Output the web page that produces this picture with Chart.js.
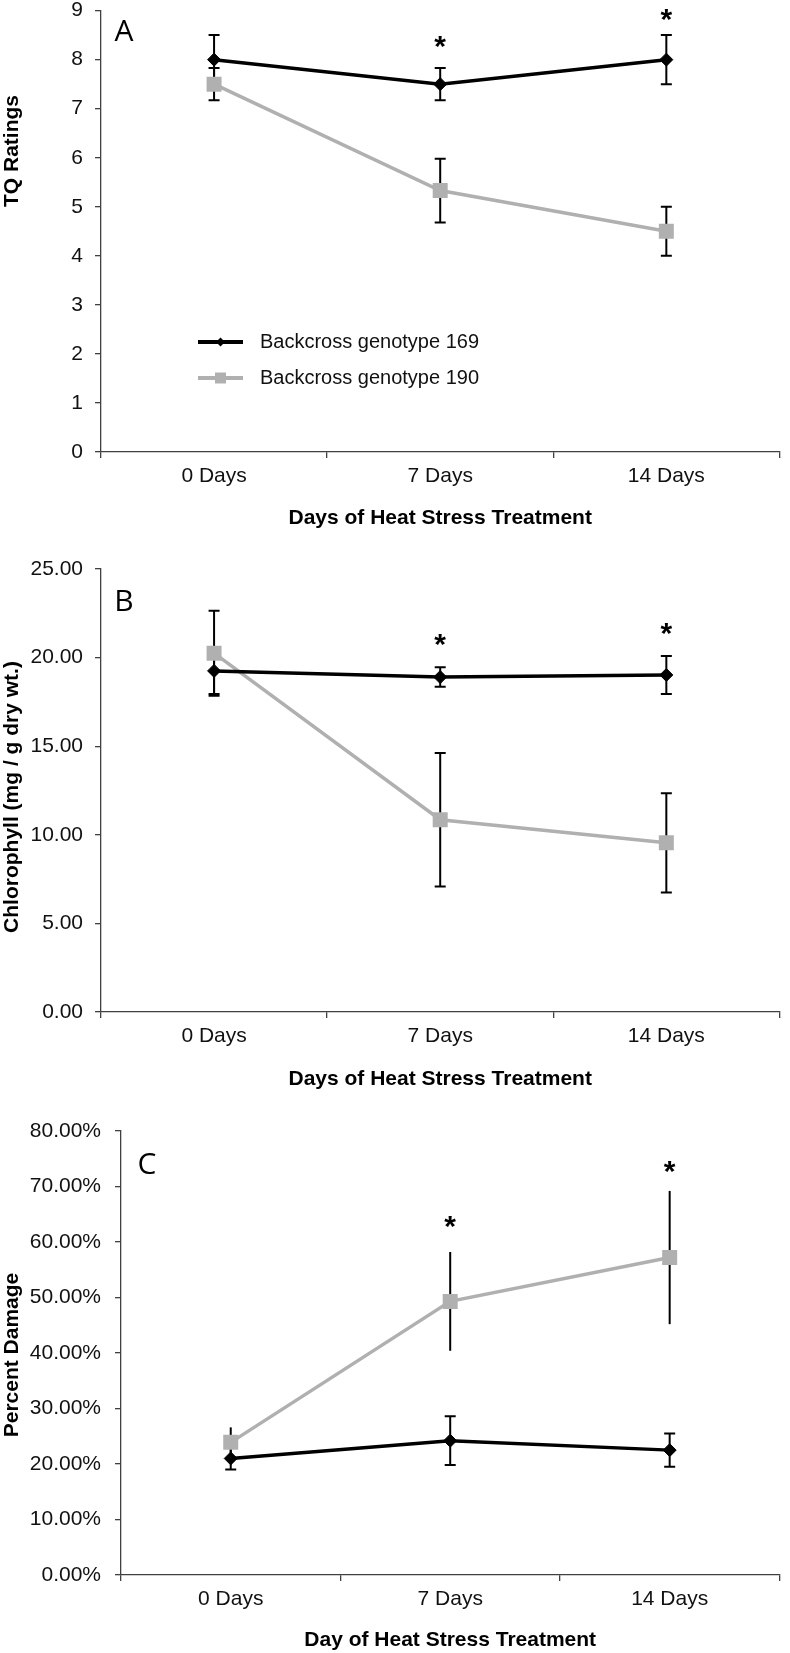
<!DOCTYPE html>
<html>
<head>
<meta charset="utf-8">
<script src="https://cdn.jsdelivr.net/npm/chart.js@4.4.1/dist/chart.umd.min.js"></script>
<style>
  html, body { margin: 0; padding: 0; background: #fff; }
  #page { position: relative; width: 790px; height: 1653px; overflow: hidden; }
  #page canvas { position: absolute; left: 0; }
</style>
</head>
<body>
<div id="page">
  <canvas id="panelA" width="790" height="540" style="top:0px"></canvas>
  <canvas id="panelB" width="790" height="555" style="top:540px"></canvas>
  <canvas id="panelC" width="790" height="558" style="top:1095px"></canvas>
</div>
<script>
// --- DATA ---
const dayLabels = ['0 Days', '7 Days', '14 Days'];
const seriesNames = ['Backcross genotype 169', 'Backcross genotype 190'];

// Panel A: turf quality (TQ) ratings, mean +/- error
const tq169 = [8.0, 7.5, 8.0];
const tq169Err = [0.5, 0.33, 0.5];
const tq190 = [7.5, 5.33, 4.5];
const tq190Err = [0.33, 0.65, 0.5];
const tqStars = [null, 8.4, 8.95];
const tqRange = [0, 9, 1];

// Panel B: chlorophyll, mg / g dry wt.
const chl169 = [19.25, 18.9, 19.02];
const chl169Err = [1.3, 0.55, 1.07];
const chl190 = [20.25, 10.85, 9.55];
const chl190Err = [2.4, 3.77, 2.8];
const chlStars = [null, 21.1, 21.7];
const chlRange = [0, 25, 5];

// Panel C: percent damage
const dmg169 = [21.0, 24.2, 22.5];
const dmg169Err = [2.0, 4.4, 3.0];
const dmg190 = [23.9, 49.3, 57.2];
const dmg190Err = [2.7, 8.9, 12.0];
const dmgStars = [null, 63.9, 73.8];
const dmgRange = [0, 80, 10];

// --- STYLE ---
const INK = '#000000';
const GREY = '#b0b0b0';
const AXIS = '#404040';
const SANS = "'Liberation Sans', Arial, sans-serif";

// Error bars, significance stars, the panel letter, the y title and the inline legend.
// Error bars go under the markers, like in the original (the grey square hides the black cap).
const panelExtras = {
    id: 'panelExtras',
    beforeDatasetsDraw(chart) {
        const ctx = chart.ctx;
        const yScale = chart.scales.y;
        ctx.save();
        ctx.strokeStyle = INK;
        ctx.lineWidth = 2;
        chart.data.datasets.forEach((ds, i) => {
            chart.getDatasetMeta(i).data.forEach((pt, j) => {
                const top = yScale.getPixelForValue(ds.data[j] + ds.errorBars[j]);
                const bot = yScale.getPixelForValue(ds.data[j] - ds.errorBars[j]);
                ctx.beginPath();
                ctx.moveTo(pt.x, top);
                ctx.lineTo(pt.x, bot);
                if (ds.errorCaps) {
                    ctx.moveTo(pt.x - 5.5, top); ctx.lineTo(pt.x + 5.5, top);
                    ctx.moveTo(pt.x - 5.5, bot); ctx.lineTo(pt.x + 5.5, bot);
                }
                ctx.stroke();
            });
        });
        ctx.restore();
    },
    afterDatasetsDraw(chart, args, opts) {
        const ctx = chart.ctx;
        const xScale = chart.scales.x;
        const yScale = chart.scales.y;
        ctx.save();
        ctx.fillStyle = INK;

        // significance asterisks
        ctx.font = `bold 30px ${SANS}`;
        ctx.textAlign = 'center';
        ctx.textBaseline = 'alphabetic';
        (opts.stars || []).forEach((v, j) => {
            if (v === null) return;
            ctx.fillText('*', xScale.getPixelForValue(j), yScale.getPixelForValue(v) + 16);
        });

        // panel letter
        ctx.font = "30px 'Open Sans', sans-serif";
        ctx.fillText(opts.tag, opts.tagX, opts.tagY + 11);

        // y axis title (Excel placed it off-centre on panel A, so it is drawn by hand)
        ctx.save();
        ctx.translate(17.5, opts.titleY);
        ctx.rotate(-Math.PI / 2);
        ctx.font = `bold 21px ${SANS}`;
        ctx.fillText(opts.title, 0, 0);
        ctx.restore();

        if (opts.legend) {
            const L = opts.legend;
            chart.data.datasets.forEach((ds, i) => {
                const cy = L.y + i * L.rowGap;
                const mx = L.x + L.len / 2;
                ctx.strokeStyle = ds.borderColor;
                ctx.lineWidth = 4;
                ctx.beginPath();
                ctx.moveTo(L.x, cy);
                ctx.lineTo(L.x + L.len, cy);
                ctx.stroke();
                ctx.fillStyle = ds.backgroundColor;
                ctx.beginPath();
                if (ds.pointStyle === 'rectRot') {
                    ctx.moveTo(mx, cy - 4.5); ctx.lineTo(mx + 4.5, cy);
                    ctx.lineTo(mx, cy + 4.5); ctx.lineTo(mx - 4.5, cy);
                } else {
                    ctx.rect(mx - 5.5, cy - 5.5, 11, 11);
                }
                ctx.closePath();
                ctx.fill();
                ctx.fillStyle = '#111';
                ctx.font = `20px ${SANS}`;
                ctx.textAlign = 'left';
                ctx.textBaseline = 'middle';
                ctx.fillText(ds.label, L.textX, cy);
            });
        }
        ctx.restore();
    }
};

function seriesSet(label, values, errors, isBlack, caps) {
    return {
        label: label,
        data: values,
        errorBars: errors,
        errorCaps: caps,
        borderColor: isBlack ? INK : GREY,
        backgroundColor: isBlack ? INK : GREY,
        borderWidth: 3.5,
        tension: 0,
        pointStyle: isBlack ? 'rectRot' : 'rect',
        pointRadius: isBlack ? 6.5 : 10.6,
        pointBorderWidth: isBlack ? 1 : 0,
        pointBorderColor: isBlack ? INK : GREY,
        pointBackgroundColor: isBlack ? INK : GREY,
    };
}

function buildPanel(canvasId, p) {
    return new Chart(document.getElementById(canvasId), {
        type: 'line',
        data: {
            labels: dayLabels,
            datasets: [
                seriesSet(seriesNames[0], p.black, p.blackErr, true, true),
                seriesSet(seriesNames[1], p.grey, p.greyErr, false, p.greyCaps),
            ],
        },
        options: {
            responsive: false,
            animation: false,
            events: [],
            devicePixelRatio: 1,
            layout: { padding: { top: p.padTop, left: 0, right: 1, bottom: 0 } },
            plugins: {
                legend: { display: false },
                tooltip: { enabled: false },
                panelExtras: p.extras,
            },
            scales: {
                x: {
                    type: 'category',
                    offset: true,
                    grid: { offset: true, drawOnChartArea: false, drawTicks: true, tickLength: 6, color: AXIS, lineWidth: 1.3 },
                    border: { color: AXIS, width: 1.3 },
                    ticks: { color: '#111', font: { family: SANS, size: 21 }, padding: 6, maxRotation: 0 },
                    title: {
                        display: true, text: p.xTitle, color: INK,
                        font: { family: SANS, size: 21, weight: 'bold' },
                        padding: { top: 0, bottom: p.xTitlePad },
                    },
                    afterFit: (s) => { s.height = p.xHeight; s.paddingLeft = 0; s.paddingRight = 0; },
                },
                y: {
                    min: p.range[0],
                    max: p.range[1],
                    grid: { drawOnChartArea: false, drawTicks: true, tickLength: 6, color: AXIS, lineWidth: 1.3 },
                    border: { color: AXIS, width: 1.3 },
                    ticks: { stepSize: p.range[2], color: '#111', font: { family: SANS, size: 21 }, padding: p.yPad, callback: p.fmt },
                    afterFit: (s) => { s.width = p.yWidth; s.paddingTop = 0; s.paddingBottom = 0; },
                },
            },
        },
        plugins: [panelExtras],
    });
}

// --- PANELS ---
buildPanel('panelA', {
    black: tq169, blackErr: tq169Err, grey: tq190, greyErr: tq190Err, greyCaps: true,
    range: tqRange, fmt: (v) => String(v),
    padTop: 7, yWidth: 101, yPad: 12, xHeight: 88, xTitlePad: 9,
    xTitle: 'Days of Heat Stress Treatment',
    extras: {
        stars: tqStars, tag: 'A', tagX: 124, tagY: 30, title: 'TQ Ratings', titleY: 151,
        legend: { x: 198, y: 342, len: 45, rowGap: 36, textX: 260 },
    },
});

buildPanel('panelB', {
    black: chl169, blackErr: chl169Err, grey: chl190, greyErr: chl190Err, greyCaps: true,
    range: chlRange, fmt: (v) => v.toFixed(2),
    padTop: 29, yWidth: 101, yPad: 12, xHeight: 83, xTitlePad: 3,
    xTitle: 'Days of Heat Stress Treatment',
    extras: { stars: chlStars, tag: 'B', tagX: 124, tagY: 60, title: 'Chlorophyll (mg / g dry wt.)', titleY: 257 },
});

buildPanel('panelC', {
    black: dmg169, blackErr: dmg169Err, grey: dmg190, greyErr: dmg190Err, greyCaps: false,
    range: dmgRange, fmt: (v) => v.toFixed(2) + '%',
    padTop: 36, yWidth: 121, yPad: 14, xHeight: 78, xTitlePad: 0,
    xTitle: 'Day of Heat Stress Treatment',
    extras: { stars: dmgStars, tag: 'C', tagX: 147, tagY: 68, title: 'Percent Damage', titleY: 260 },
});
</script>
</body>
</html>
